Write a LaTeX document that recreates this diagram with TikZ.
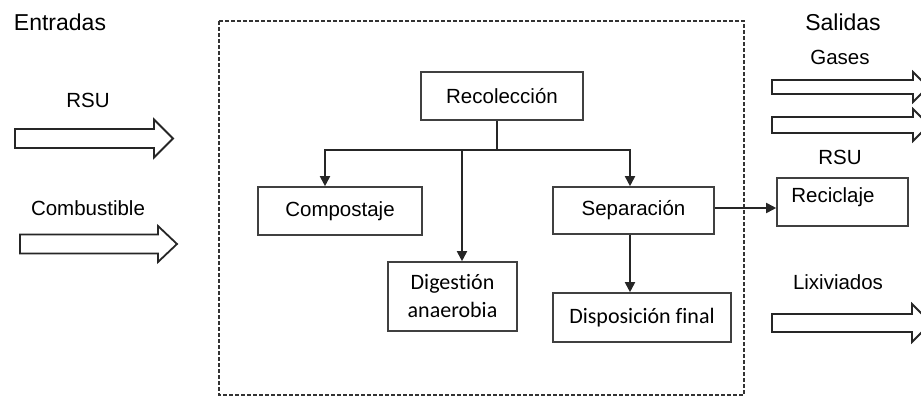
\documentclass[tikz,border=0pt]{standalone}
\usepackage{fontspec}
\setmainfont{Liberation Sans}
\newfontfamily\calfont[Ligatures=NoCommon]{Carlito}
\usetikzlibrary{arrows.meta}

% hollow block arrow: x0, head start, tip, y centre, half shaft, half head
\newcommand{\blockarrow}[6]{%
    \draw[bigarrow] (#1,#4-#5) -- (#2,#4-#5) -- (#2,#4-#6) -- (#3,#4)
        -- (#2,#4+#6) -- (#2,#4+#5) -- (#1,#4+#5) -- cycle;}

\begin{document}
\begin{tikzpicture}[x=1pt, y=-1pt,
        every node/.style = {font=\fontsize{20.5}{24}\selectfont},
        box/.style = {draw=black!75, line width=1.6pt, inner sep=0pt},
        head/.style = {font=\fontsize{23}{27}\selectfont},
        bigarrow/.style = {draw=black!85, line width=1.8pt, fill=white},
        flow/.style = {draw=black!85, line width=1.8pt,
            -{Triangle[length=10pt, width=10pt]}}]
    \useasboundingbox (0,0) rectangle (921,396);
    \clip (0,0) rectangle (921,396);

    % frame of the process
    \draw[line width=1.8pt, black!80, dash pattern=on 4pt off 2pt]
        (219,21) rectangle (744,395);

    % inputs
    \node[head] (entradas) at (60,22) {Entradas};
    \node (rsuin) at (88,100) {RSU};
    \node (comb) at (88,208) {Combustible};
    \blockarrow{15}{154}{173}{138.5}{9.5}{19}
    \blockarrow{20}{158}{177}{244}{9.5}{18}

    % outputs
    \node[head] (salidas) at (843,22) {Salidas};
    \node (gases) at (840,57) {Gases};
    \node (rsuout) at (840,157) {RSU};
    \node (lix) at (838,282) {Lixiviados};
    \blockarrow{772}{913}{928}{87}{7}{15}
    \blockarrow{772}{913}{929}{125}{8}{16}
    \blockarrow{772}{912}{931}{323}{9}{19}

    % process boxes
    \node[box, minimum width=162pt, minimum height=48pt] (recol) at (502,96) {Recolecci\'on};
    \node[box, minimum width=164pt, minimum height=48pt] (compost) at (340,211) {Compostaje};
    \node[box, minimum width=129pt, minimum height=69pt, align=center,
        font=\calfont\fontsize{22}{28}\selectfont] (digest) at (452.5,296.5) {Digesti\'on\\anaerobia};
    \node[box, minimum width=161pt, minimum height=47pt] (sep) at (633.5,210.5) {Separaci\'on};
    \node[box, minimum width=178pt, minimum height=49pt,
        font=\calfont\fontsize{22}{26}\selectfont] (disp) at (642,317.5) {Disposici\'on final};
    \node[box, minimum width=131pt, minimum height=48pt] (recic) at (842.5,202) {};
    \node (reciclaje) at (833,197) {Reciclaje};

    % connectors
    \coordinate (bar) at (497,150);
    \coordinate (mid) at (462,150);
    \draw[draw=black!85, line width=1.8pt] (bar |- recol.south) -- (bar);
    \draw[flow] (bar) -| ([xshift=-15pt]compost.north);
    \draw[flow] (bar) -| ([xshift=-3.5pt]sep.north);
    \draw[flow] (mid) -- (mid |- digest.north);
    \draw[flow] ([xshift=-3.5pt]sep.south) -- ([xshift=-3.5pt]sep.south |- disp.north);
    \draw[flow] ([yshift=2.5pt]sep.east) -- ([yshift=2.5pt]sep.east -| recic.west);
\end{tikzpicture}
\end{document}
